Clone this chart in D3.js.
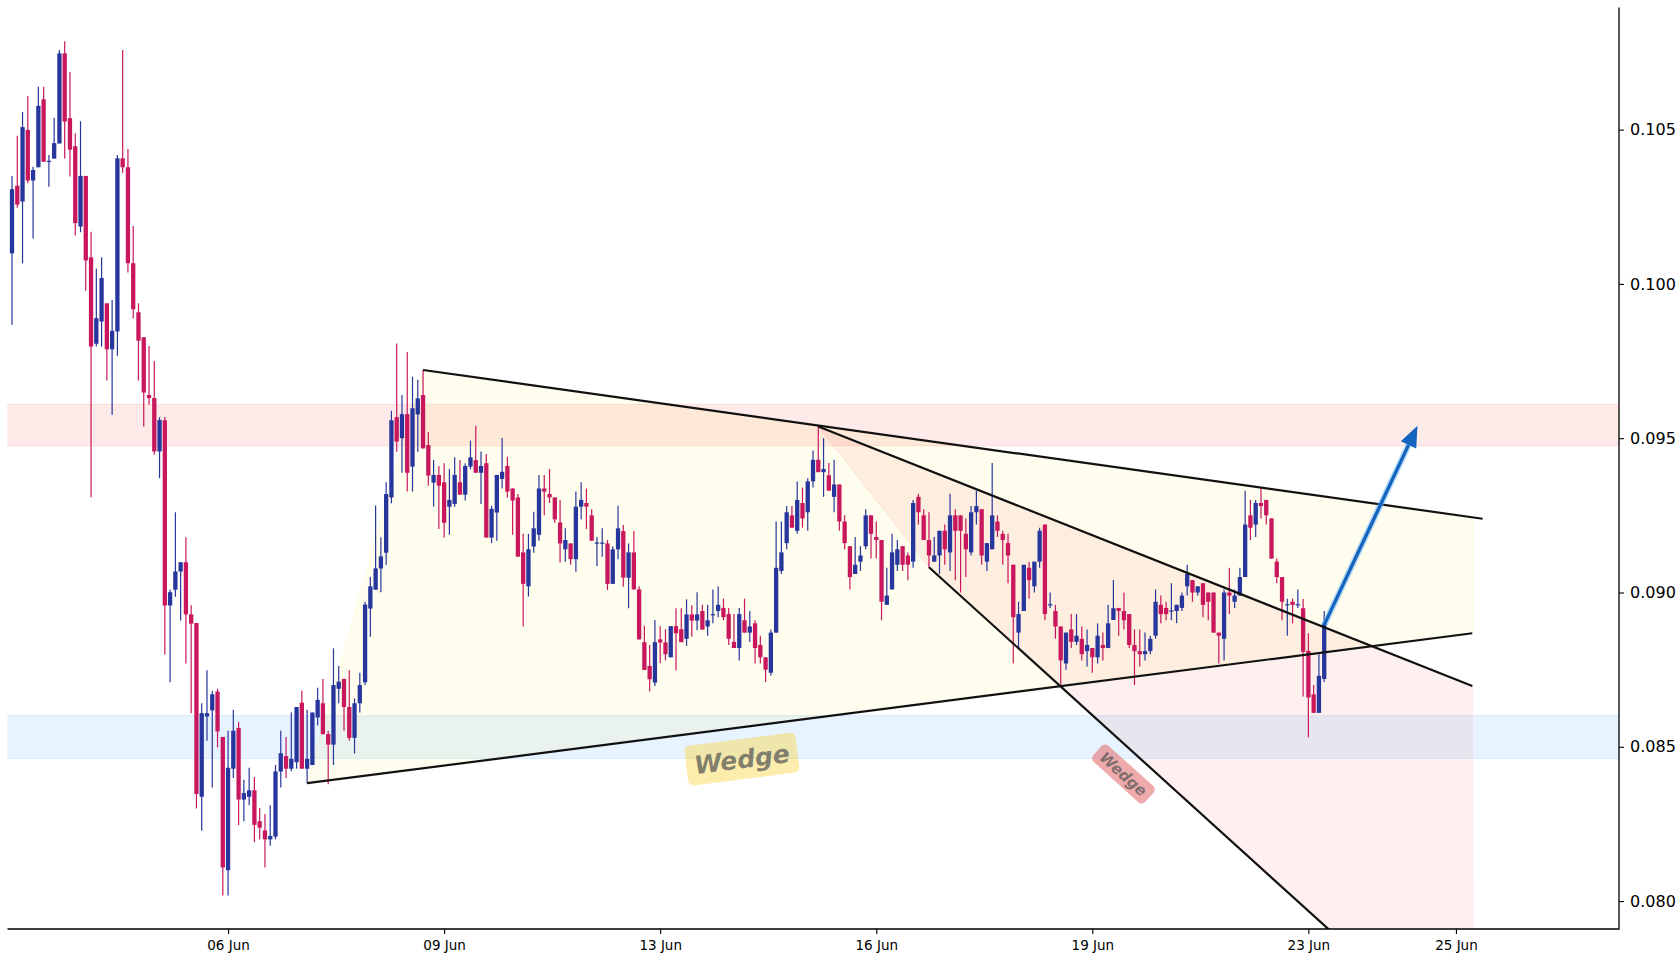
<!DOCTYPE html>
<html>
<head>
<meta charset="utf-8">
<script src="https://cdn.jsdelivr.net/npm/d3@7"></script>
<style>
  html, body { margin: 0; padding: 0; background: #ffffff; }
  svg { display: block; font-family: "DejaVu Sans", sans-serif; }
</style>
</head>
<body>
<div id="chart"></div>
<script>
// Canvas and plot area
const W = 1680, H = 960;
const plot = { left: 7.5, right: 1619, top: 7.5, bottom: 929 };

// Candle data (one value per bar, oldest first)
const opens = [
  .10099,.10318,.10267,.10499,.10335,.10378,.10598,.10396,.10406,.10455,
  .10747,.10537,.10446,.10186,.10350,.10086,.09806,.09878,.09937,.09788,
  .09846,.10407,.10378,.10067,.09908,.09827,.09640,.09630,.09457,.09558,
  .08958,.09009,.09068,.09098,.08929,.08901,.08338,.08598,.08618,.08679,
  .08532,.08100,.08429,.08561,.08329,.08338,.08359,.08259,.08229,.08200,
  .08209,.08420,.08470,.08429,.08450,.08643,.08429,.08441,.08595,.08641,
  .08541,.08507,.08688,.08720,.08629,.08529,.08641,.08709,.08948,.09009,
  .09078,.09129,.09308,.09568,.09500,.09578,.09408,.09577,.09640,.09478,
  .09356,.09381,.09357,.09278,.09287,.09357,.09317,.09408,.09429,.09388,
  .09419,.09178,.09259,.09368,.09410,.09337,.09308,.09130,.09020,.09149,
  .09187,.09337,.09319,.09308,.09227,.09140,.09159,.09108,.09278,.09290,
  .09250,.09160,.09160,.09159,.09028,.09140,.09199,.09048,.09130,.09010,
  .08839,.08762,.08708,.08848,.08838,.08790,.08891,.08881,.08850,.08929,
  .08909,.08940,.08890,.08930,.08940,.08950,.08930,.08840,.08820,.08910,
  .08870,.08900,.08830,.08790,.08740,.08870,.09070,.09160,.09250,.09200,
  .09290,.09260,.09360,.09430,.09390,.09380,.09310,.09350,.09230,.09150,
  .09060,.09100,.09150,.09250,.09180,.09170,.08960,.09010,.09090,.09150,
  .09120,.09100,.09310,.09250,.09170,.09100,.09120,.09200,.09130,.09250,
  .09250,.09190,.09130,.09260,.09270,.09100,.09140,.09230,.09190,.09160,
  .09090,.08870,.08940,.09080,.09020,.09100,.09220,.08960,.08940,.08890,
  .08770,.08880,.08840,.08850,.08810,.08820,.08790,.08830,.08820,.08911,
  .08950,.08940,.08930,.08830,.08810,.08800,.08810,.08860,.08960,.08950,
  .08940,.08940,.08950,.09020,.09040,.09000,.09030,.09000,.09000,.08870,
  .08850,.09000,.08970,.08990,.09050,.09250,.09220,.09290,.09300,.09240,
  .09100,.09050,.08960,.08970,.08960,.08949,.08811,.08670,.08610,.08720
];
const highs = [
  .10350,.10480,.10557,.10609,.10380,.10639,.10639,.10418,.10538,.10758,
  .10786,.10687,.10488,.10527,.10350,.10169,.10049,.10086,.09937,.09948,
  .10418,.10758,.10437,.10188,.09937,.09827,.09799,.09750,.09568,.09569,
  .09010,.09260,.09098,.09179,.08959,.08901,.08641,.08748,.08681,.08688,
  .08532,.08552,.08620,.08580,.08393,.08432,.08402,.08302,.08282,.08311,
  .08441,.08552,.08532,.08611,.08629,.08682,.08620,.08611,.08691,.08720,
  .08552,.08819,.08762,.08720,.08748,.08657,.08740,.08970,.09050,.09282,
  .09179,.09357,.09589,.09807,.09640,.09779,.09699,.09689,.09721,.09520,
  .09429,.09410,.09419,.09400,.09438,.09429,.09419,.09492,.09540,.09457,
  .09449,.09281,.09381,.09501,.09440,.09337,.09319,.09190,.09190,.09262,
  .09381,.09381,.09400,.09308,.09300,.09208,.09159,.09327,.09357,.09337,
  .09270,.09180,.09208,.09170,.09150,.09281,.09219,.09159,.09199,.09020,
  .08892,.08830,.08911,.08891,.08881,.08891,.08949,.08949,.08978,.08959,
  .09001,.08960,.08960,.09010,.09020,.08980,.08950,.08930,.08950,.08980,
  .08940,.08910,.08860,.08790,.08880,.09230,.09230,.09280,.09280,.09360,
  .09340,.09370,.09460,.09540,.09500,.09420,.09430,.09350,.09250,.09150,
  .09180,.09150,.09270,.09250,.09230,.09170,.09080,.09190,.09170,.09150,
  .09130,.09300,.09320,.09270,.09260,.09180,.09200,.09220,.09320,.09270,
  .09250,.09240,.09280,.09330,.09270,.09160,.09420,.09250,.09200,.09190,
  .09090,.08970,.09090,.09100,.09100,.09210,.09220,.09000,.08960,.08890,
  .08870,.08930,.08930,.08890,.08880,.08820,.08900,.08870,.08960,.09041,
  .08950,.09000,.08930,.08880,.08880,.08870,.08860,.09010,.08990,.08970,
  .09030,.08960,.09000,.09090,.09040,.09020,.09030,.09000,.09000,.08870,
  .09010,.09080,.09010,.09080,.09330,.09300,.09300,.09340,.09300,.09240,
  .09110,.09050,.08980,.08980,.09010,.08979,.08868,.08700,.08800,.08940
];
const lows = [
  .09868,.10247,.10067,.10326,.10147,.10378,.10396,.10315,.10406,.10455,
  .10406,.10348,.10157,.10167,.09978,.09309,.09797,.09797,.09687,.09576,
  .09767,.10359,.10037,.09888,.09687,.09538,.09608,.09446,.09370,.08799,
  .08709,.08986,.08909,.08770,.08609,.08300,.08228,.08520,.08368,.08498,
  .08018,.08018,.08399,.08247,.08259,.08311,.08191,.08200,.08109,.08179,
  .08200,.08368,.08399,.08421,.08429,.08429,.08382,.08441,.08569,.08541,
  .08379,.08441,.08641,.08552,.08520,.08478,.08611,.08700,.08857,.09009,
  .09001,.09089,.09289,.09456,.09388,.09327,.09327,.09456,.09467,.09346,
  .09278,.09206,.09178,.09187,.09278,.09317,.09298,.09399,.09388,.09287,
  .09178,.09160,.09168,.09337,.09308,.09187,.09116,.08890,.08987,.09129,
  .09168,.09250,.09290,.09226,.09097,.09100,.09090,.09067,.09237,.09206,
  .09168,.09086,.09116,.09008,.09028,.09108,.09019,.08949,.09010,.08848,
  .08749,.08679,.08697,.08771,.08780,.08790,.08747,.08839,.08827,.08857,
  .08878,.08880,.08860,.08900,.08920,.08910,.08830,.08820,.08780,.08870,
  .08840,.08770,.08770,.08710,.08730,.08870,.09060,.09140,.09210,.09190,
  .09210,.09200,.09340,.09390,.09310,.09330,.09260,.09200,.09140,.09010,
  .09060,.09070,.09140,.09110,.09110,.08910,.08960,.09010,.09070,.09070,
  .09040,.09080,.09220,.09170,.09080,.09100,.09060,.09090,.09070,.09040,
  .09000,.09050,.09120,.09220,.09090,.09070,.09140,.09180,.09090,.09030,
  .08770,.08820,.08940,.08980,.09000,.09080,.08910,.08950,.08850,.08700,
  .08750,.08820,.08830,.08780,.08760,.08740,.08770,.08780,.08820,.08911,
  .08860,.08880,.08820,.08700,.08760,.08780,.08800,.08850,.08900,.08910,
  .08910,.08900,.08940,.08990,.08970,.08990,.08920,.08910,.08870,.08770,
  .08780,.08930,.08950,.08990,.09050,.09170,.09180,.09240,.09220,.09110,
  .09030,.08910,.08860,.08900,.08950,.08663,.08531,.08610,.08610,.08710
];
const closes = [
  .10307,.10257,.10508,.10335,.10369,.10577,.10396,.10399,.10456,.10747,
  .10526,.10435,.10197,.10350,.10076,.09797,.09889,.10019,.09788,.09848,
  .10407,.10378,.10067,.09918,.09816,.09648,.09630,.09457,.09559,.08958,
  .09001,.09068,.09098,.08929,.08899,.08347,.08609,.08609,.08670,.08550,
  .08109,.08432,.08552,.08329,.08350,.08359,.08247,.08238,.08200,.08211,
  .08420,.08479,.08429,.08461,.08629,.08429,.08461,.08611,.08652,.08541,
  .08507,.08700,.08711,.08629,.08529,.08641,.08700,.08961,.09020,.09078,
  .09117,.09319,.09558,.09489,.09578,.09388,.09597,.09629,.09467,.09379,
  .09381,.09346,.09226,.09300,.09381,.09317,.09410,.09438,.09388,.09410,
  .09178,.09271,.09381,.09391,.09327,.09298,.09116,.09028,.09140,.09208,
  .09337,.09327,.09308,.09237,.09159,.09170,.09108,.09278,.09300,.09278,
  .09168,.09162,.09162,.09028,.09140,.09208,.09048,.09130,.09010,.08848,
  .08749,.08719,.08839,.08838,.08800,.08891,.08868,.08839,.08929,.08909,
  .08929,.08880,.08910,.08930,.08960,.08920,.08850,.08820,.08930,.08870,
  .08890,.08820,.08790,.08750,.08870,.09080,.09130,.09260,.09210,.09300,
  .09240,.09360,.09430,.09390,.09400,.09330,.09350,.09230,.09160,.09050,
  .09090,.09120,.09250,.09190,.09170,.08970,.08990,.09130,.09140,.09090,
  .09090,.09290,.09260,.09170,.09120,.09120,.09200,.09140,.09250,.09200,
  .09200,.09140,.09260,.09280,.09120,.09160,.09250,.09200,.09170,.09120,
  .08920,.08930,.09090,.09040,.09100,.09200,.08930,.08962,.08890,.08780,
  .08870,.08840,.08860,.08800,.08830,.08790,.08860,.08820,.08900,.08949,
  .08940,.08910,.08830,.08810,.08800,.08810,.08850,.08970,.08930,.08930,
  .08942,.08960,.08990,.09060,.09000,.09020,.08960,.08970,.08870,.08860,
  .09000,.08990,.08990,.09050,.09220,.09210,.09290,.09280,.09250,.09110,
  .09050,.08970,.08962,.08960,.08962,.08808,.08660,.08610,.08730,.08900
];

// Axis ticks
const tickIdx = [41, 82, 123, 164, 205, 246, 274];
const tickLabels = ["06 Jun", "09 Jun", "13 Jun", "16 Jun", "19 Jun", "23 Jun", "25 Jun"];
const priceTicks = [0.080, 0.085, 0.090, 0.095, 0.100, 0.105];

// Horizontal zones [low, high]
const resistBand = [0.09475, 0.09610];
const supportBand = [0.08462, 0.08601];

// Drawn pattern, as [bar index, price] points
const wedgeTop = [[78, 0.09721], [279.07, 0.09239]];
const wedgeBottom = [[56, 0.08382], [277.1, 0.08868]];
const wedgeArea = [[56, 0.08382], [78, 0.09721], [277.1, 0.09244], [277.1, 0.08868]];
const wedge2Top = [[153, 0.09538], [277.1, 0.08697]];
const wedge2Bottom = [[174, 0.09082], [277.1, 0.07487]];
const wedge2Area = [[153, 0.09538], [277.1, 0.08697], [277.1, 0.07487], [174, 0.09082]];
const arrowPts = [[249, 0.08895], [266.7, 0.0954]];

const colors = {
  up: "#27369c",
  down: "#c8175c",
  line: "#111111",
  arrow: "#1565c0",
  axis: "#000000"
};

const candles = opens.map((o, i) => ({ i, o, h: highs[i], l: lows[i], c: closes[i] }));

// Scales: bar index -> x, price -> y
const x = d3.scaleLinear().domain([0, 249]).range([12, 1324.2]);
const y = d3.scaleLinear().domain([0.080, 0.105]).range([901.1, 129.6]);

const svg = d3.select("#chart").append("svg")
    .attr("width", W)
    .attr("height", H);

svg.append("defs").append("clipPath")
    .attr("id", "plot-clip")
  .append("rect")
    .attr("x", plot.left)
    .attr("y", plot.top)
    .attr("width", plot.right - plot.left)
    .attr("height", plot.bottom - plot.top);

const g = svg.append("g").attr("clip-path", "url(#plot-clip)");

// Zones
[[resistBand, "244,67,54"], [supportBand, "33,150,243"]].forEach(([b, rgb]) => {
  g.append("rect")
      .attr("x", plot.left)
      .attr("width", plot.right - plot.left)
      .attr("y", y(b[1]))
      .attr("height", y(b[0]) - y(b[1]))
      .attr("fill", `rgba(${rgb},0.11)`)
      .attr("stroke", `rgba(${rgb},0.12)`)
      .attr("stroke-width", 1);
});

// Pattern areas
const area = d3.line().x(d => x(d[0])).y(d => y(d[1])).curve(d3.curveLinearClosed);
g.append("path")
    .attr("d", area(wedgeArea))
    .attr("fill", "rgba(255,235,59,0.085)")
    .attr("stroke", "rgba(255,235,59,0.15)");
g.append("path")
    .attr("d", area(wedge2Area))
    .attr("fill", "rgba(244,67,54,0.08)")
    .attr("stroke", "rgba(244,67,54,0.1)");

// Candles
const bodyW = 4.3;
const cg = g.append("g");
cg.selectAll(".wick")
    .data(candles)
  .enter().append("line")
    .attr("class", "wick")
    .attr("x1", d => x(d.i))
    .attr("x2", d => x(d.i))
    .attr("y1", d => y(d.h))
    .attr("y2", d => y(d.l))
    .attr("stroke", d => d.c >= d.o ? colors.up : colors.down)
    .attr("stroke-width", 1.2);
cg.selectAll(".body")
    .data(candles)
  .enter().append("rect")
    .attr("class", "body")
    .attr("x", d => x(d.i) - bodyW / 2)
    .attr("width", bodyW)
    .attr("y", d => y(Math.max(d.o, d.c)))
    .attr("height", d => Math.max(1.2, Math.abs(y(d.o) - y(d.c))))
    .attr("fill", d => d.c >= d.o ? colors.up : colors.down);

// Pattern lines
const seg = d3.line().x(d => x(d[0])).y(d => y(d[1]));
[wedgeTop, wedgeBottom, wedge2Top, wedge2Bottom].forEach(pts => {
  g.append("path")
      .attr("d", seg(pts))
      .attr("fill", "none")
      .attr("stroke", colors.line)
      .attr("stroke-width", 2.2);
});

// Arrow
const sx = x(arrowPts[0][0]), sy = y(arrowPts[0][1]);
const tx = x(arrowPts[1][0]), ty = y(arrowPts[1][1]);
const len = Math.hypot(tx - sx, ty - sy);
const ux = (tx - sx) / len, uy = (ty - sy) / len;
const headL = 21, headW = 8.5;
const ex = tx - ux * headL, ey = ty - uy * headL;
g.append("line")
    .attr("x1", sx).attr("y1", sy).attr("x2", ex).attr("y2", ey)
    .attr("stroke", "#64b5f6").attr("stroke-width", 6.5).attr("stroke-opacity", 0.45);
g.append("line")
    .attr("x1", sx).attr("y1", sy).attr("x2", ex).attr("y2", ey)
    .attr("stroke", colors.arrow).attr("stroke-width", 3.4);
g.append("path")
    .attr("d", `M${tx},${ty}L${ex - uy * headW},${ey + ux * headW}L${ex + uy * headW},${ey - ux * headW}Z`)
    .attr("fill", colors.arrow);

// Pattern labels
function tag(at, angle, size, w, h, boxFill, boxOpacity) {
  const t = svg.append("g")
      .attr("transform", `translate(${x(at[0])},${y(at[1])}) rotate(${angle})`);
  t.append("rect")
      .attr("x", -w / 2).attr("y", -h / 2)
      .attr("width", w).attr("height", h)
      .attr("rx", 5)
      .attr("fill", boxFill)
      .attr("fill-opacity", boxOpacity);
  t.append("text")
      .attr("text-anchor", "middle")
      .attr("dy", "0.36em")
      .attr("font-size", size)
      .attr("font-weight", "bold")
      .attr("font-style", "italic")
      .attr("fill", "#555555")
      .attr("fill-opacity", 0.72)
      .text("Wedge");
}
tag([138.5, 0.0846], -7.35, 25, 112, 40, "#f9d648", 0.45);
tag([210.9, 0.08412], 41.9, 15, 70, 22, "#e57373", 0.6);

// Axes
const xAxis = svg.append("g")
    .attr("transform", `translate(0,${plot.bottom})`)
    .call(d3.axisBottom(x)
      .tickValues(tickIdx)
      .tickFormat((d, i) => tickLabels[i])
      .tickSize(5)
      .tickPadding(6)
      .tickSizeOuter(0));
xAxis.select(".domain").remove();
xAxis.selectAll("text")
    .attr("font-family", "DejaVu Sans")
    .attr("font-size", 13.5)
    .attr("fill", colors.axis);
xAxis.selectAll("line").attr("stroke", colors.axis).attr("stroke-width", 1.1);

const yAxis = svg.append("g")
    .attr("transform", `translate(${plot.right},0)`)
    .call(d3.axisRight(y)
      .tickValues(priceTicks)
      .tickFormat(d3.format(".3f"))
      .tickSize(5)
      .tickPadding(6)
      .tickSizeOuter(0));
yAxis.select(".domain").remove();
yAxis.selectAll("text")
    .attr("font-family", "DejaVu Sans")
    .attr("font-size", 16)
    .attr("fill", colors.axis);
yAxis.selectAll("line").attr("stroke", colors.axis).attr("stroke-width", 1.1);

// Spines: bottom and right only
svg.append("path")
    .attr("d", `M${plot.left},${plot.bottom}H${plot.right}V${plot.top}`)
    .attr("fill", "none")
    .attr("stroke", colors.axis)
    .attr("stroke-width", 1.3);
</script>
</body>
</html>
